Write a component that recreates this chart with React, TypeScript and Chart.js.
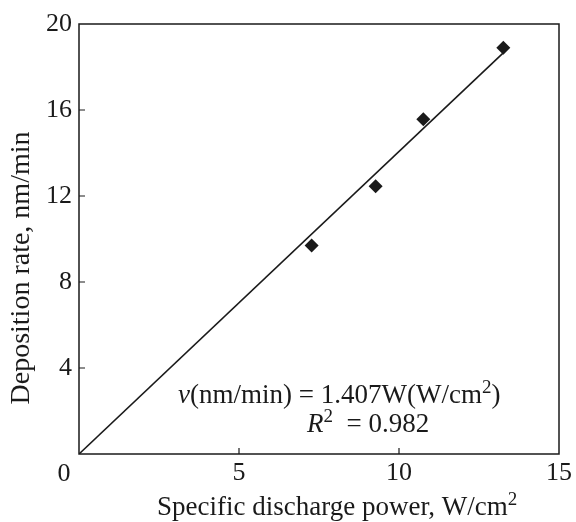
import React, { useEffect, useRef } from "react";
import { Chart, registerables } from "chart.js";

Chart.register(...registerables);

const powerValues = [7.27, 9.27, 10.76, 13.26];
const rateValues = [9.7, 12.45, 15.57, 18.9];
const fitX = [0, 13.3];
const fitSlope = 1.407;
const xTicks = [0, 5, 10, 15];
const yTicks = [0, 4, 8, 12, 16, 20];
const yTitle = "Deposition rate, nm/min";

const FONT = "'Liberation Serif', 'DejaVu Serif', serif";
const INK = "#1a1a1a";

const framePlugin = {
  id: "frame",
  afterDatasetsDraw(chart: any) {
    const { ctx, chartArea, scales } = chart;
    const { left, right, top, bottom } = chartArea;
    ctx.save();
    ctx.strokeStyle = INK;
    ctx.lineWidth = 1.5;
    ctx.strokeRect(left, top, right - left, bottom - top);
    ctx.lineWidth = 1.2;
    ctx.beginPath();
    for (const v of xTicks) {
      const px = scales.x.getPixelForValue(v);
      if (v > 0 && v < 15) {
        ctx.moveTo(px, bottom);
        ctx.lineTo(px, bottom - 6);
      }
    }
    for (const v of yTicks) {
      const py = scales.y.getPixelForValue(v);
      if (v > 0 && v < 20) {
        ctx.moveTo(left, py);
        ctx.lineTo(left + 6, py);
      }
    }
    ctx.stroke();

    ctx.fillStyle = INK;
    ctx.textBaseline = "alphabetic";
    ctx.textAlign = "left";
    const drawRun = (
      parts: { t: string; italic?: boolean; sup?: boolean }[],
      x: number,
      y: number,
      size: number
    ) => {
      let cx = x;
      const sup = Math.round(size * 0.7);
      for (const p of parts) {
        const fs = p.sup ? sup : size;
        ctx.font = `${p.italic ? "italic " : ""}${fs}px ${FONT}`;
        ctx.fillText(p.t, cx, p.sup ? y - size * 0.36 : y);
        cx += ctx.measureText(p.t).width;
      }
    };
    drawRun(
      [
        { t: "v", italic: true },
        { t: "(nm/min) = 1.407W(W/cm" },
        { t: "2", sup: true },
        { t: ")" },
      ],
      178,
      403,
      27
    );
    drawRun(
      [{ t: "R", italic: true }, { t: "2", sup: true }, { t: "  = 0.982" }],
      307,
      432,
      27
    );

    // x-axis title with superscript
    drawRun(
      [{ t: "Specific discharge power, W/cm" }, { t: "2", sup: true }],
      157,
      515,
      27
    );

    // y-axis title
    ctx.save();
    ctx.translate(22, 268);
    ctx.rotate(-Math.PI / 2);
    ctx.font = `28px ${FONT}`;
    ctx.textAlign = "center";
    ctx.textBaseline = "middle";
    ctx.fillText(yTitle, 0, 0);
    ctx.restore();

    // x tick label 0 (offset left as in reference)
    ctx.font = `26px ${FONT}`;
    ctx.textAlign = "center";
    ctx.textBaseline = "middle";
    ctx.fillText("0", left - 15, bottom + 20);
    ctx.restore();
  },
};

export default function App() {
  const ref = useRef<HTMLCanvasElement>(null);
  useEffect(() => {
    document.body.style.margin = "0";
    const canvas = ref.current!;
    const chart = new Chart(canvas, {
      type: "scatter",
      data: {
        datasets: [
          {
            type: "line",
            data: fitX.map((x) => ({ x, y: fitSlope * x })),
            borderColor: INK,
            borderWidth: 1.6,
            pointRadius: 0,
            fill: false,
          },
          {
            type: "scatter",
            data: powerValues.map((x, i) => ({ x, y: rateValues[i] })),
            pointStyle: "rectRot",
            radius: 7,
            backgroundColor: INK,
            borderColor: INK,
            borderWidth: 0,
          },
        ] as any,
      },
      options: {
        responsive: false,
        animation: false,
        layout: { padding: { top: 24, right: 17, left: 0, bottom: 0 } },
        plugins: { legend: { display: false }, tooltip: { enabled: false } },
        scales: {
          x: {
            type: "linear",
            min: 0,
            max: 15,
            afterFit: (a: any) => {
              a.height = 68;
            },
            afterBuildTicks: (a: any) => {
              a.ticks = xTicks.map((v) => ({ value: v }));
            },
            grid: { display: false, drawTicks: false },
            border: { display: false },
            ticks: {
              color: INK,
              padding: 4,
              maxRotation: 0,
              font: { family: FONT, size: 26 },
              callback: (v: any) => (v === 0 ? "" : String(v)),
            },
          },
          y: {
            type: "linear",
            min: 0,
            max: 20,
            afterFit: (a: any) => {
              a.width = 79;
            },
            afterBuildTicks: (a: any) => {
              a.ticks = yTicks.map((v) => ({ value: v }));
            },
            grid: { display: false, drawTicks: false },
            border: { display: false },
            ticks: {
              color: INK,
              padding: 7,
              font: { family: FONT, size: 26 },
              callback: (v: any) => (v === 0 ? "" : String(v)),
            },
          },
        },
      } as any,
      plugins: [framePlugin],
    });
    return () => chart.destroy();
  }, []);
  return <canvas ref={ref} width={576} height={522} />;
}
